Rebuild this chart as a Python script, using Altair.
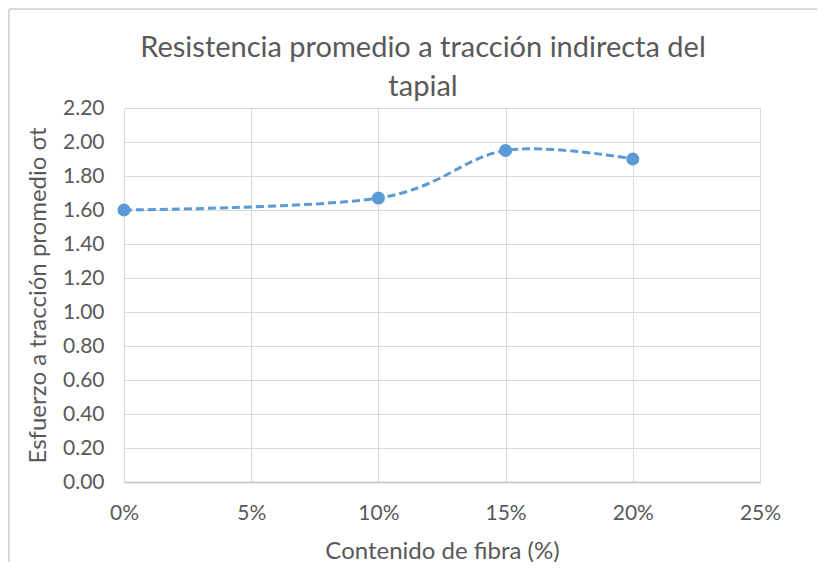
import altair as alt
import pandas as pd

fibra = [0.0, 0.10, 0.15, 0.20]
esfuerzo = [1.60, 1.67, 1.95, 1.90]
y_ticks = [0.0, 0.2, 0.4, 0.6, 0.8, 1.0, 1.2, 1.4, 1.6, 1.8, 2.0, 2.2]
x_ticks = [0.0, 0.05, 0.10, 0.15, 0.20, 0.25]

df = pd.DataFrame({"fibra": fibra, "esfuerzo": esfuerzo})

FONT = "Lato"
GREY = "#595959"
BLUE = "#5B9BD5"

x = alt.X("fibra:Q", scale=alt.Scale(domain=[0, 0.25], nice=False),
          axis=alt.Axis(values=x_ticks, format=".0%", title="Contenido de fibra (%)"))
y = alt.Y("esfuerzo:Q", scale=alt.Scale(domain=[0, 2.2], nice=False),
          axis=alt.Axis(values=y_ticks, format=".2f", title="Esfuerzo a tracción promedio  σt"))

line = alt.Chart(df).mark_line(
    interpolate="cardinal", tension=0.0, color=BLUE, strokeWidth=3, strokeDash=[8, 4]
).encode(x=x, y=y)

pts = alt.Chart(df).mark_point(
    filled=True, size=170, color=BLUE, opacity=1
).encode(x=x, y=y)

# light frame around the whole chart (top and left edges visible)
frame_top = alt.Chart(df).mark_rule(color="#d9d9d9", strokeWidth=2).encode(
    x=alt.value(-115), x2=alt.value(710), y=alt.value(-99)
)
frame_left = alt.Chart(df).mark_rule(color="#d9d9d9", strokeWidth=2).encode(
    x=alt.value(-115), y=alt.value(-99), y2=alt.value(470)
)

chart = (frame_top + frame_left + line + pts).properties(
    width=636, height=374,
    padding={"left": 116, "top": 100, "right": 57, "bottom": 80},
    autosize=alt.AutoSizeParams(type="none"),
    title=alt.TitleParams(
        ["Resistencia promedio a tracción indirecta del", "tapial"],
        font=FONT, fontSize=29, fontWeight="normal", color=GREY,
        anchor="middle", frame="group", dx=-19, dy=106, offset=12, lineHeight=39,
    ),
).configure_view(stroke=None).configure_axis(
    labelFont=FONT, titleFont=FONT, labelFontSize=21, titleFontSize=24,
    labelColor=GREY, titleColor=GREY, titleFontWeight="normal",
    gridColor="#d9d9d9", gridWidth=1, ticks=False, labelFlush=False,
).configure_axisX(
    domainColor="#bfbfbf", domainWidth=1.5, labelPadding=20, titlePadding=16,
).configure_axisY(
    domain=False, labelPadding=20, titlePadding=12,
)

chart.save("out.html", embed_options={"renderer": "svg", "actions": False})
